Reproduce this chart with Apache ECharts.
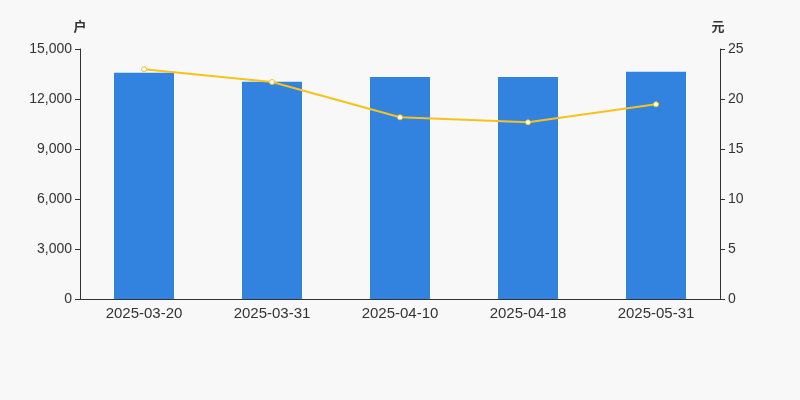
<!DOCTYPE html>
<html><head><meta charset="utf-8">
<script src="https://cdn.jsdelivr.net/npm/echarts@6/dist/echarts.min.js"></script>
<style>html,body{margin:0;padding:0;background:#f8f8f8}#c{width:800px;height:400px}</style>
</head><body><div id="c"></div>
<script>
const categories = ['2025-03-20','2025-03-31','2025-04-10','2025-04-18','2025-05-31'];
const holders = [13570, 13030, 13320, 13320, 13640];
const prices = [22.97, 21.7, 18.17, 17.67, 19.47];
const leftTicks = {min:0, max:15000, interval:3000};
const rightTicks = {min:0, max:25, interval:5};

const chart = echarts.init(document.getElementById('c'));
const ff = 'Liberation Sans, Arial, sans-serif';
const yLabel = {color:'#333', fontSize:14, fontFamily:ff};
chart.setOption({
  backgroundColor:'#f8f8f8',
  animation:false,
  grid:{left:80, right:80, top:49, bottom:101},
  xAxis:{type:'category', data:categories,
    axisLine:{lineStyle:{color:'#333'}}, axisTick:{lineStyle:{color:'#333'}},
    axisLabel:{color:'#333', fontSize:15, fontFamily:ff, margin:7}},
  yAxis:[
    {type:'value', name:'户', min:leftTicks.min, max:leftTicks.max, interval:leftTicks.interval,
     nameTextStyle:{color:'#333', fontSize:13, fontWeight:'bold', align:'center', fontFamily:'Noto Sans CJK SC'},
     nameGap:16,
     axisLine:{show:true, lineStyle:{color:'#333'}}, axisTick:{show:true, lineStyle:{color:'#333'}},
     splitLine:{show:false}, axisLabel:yLabel},
    {type:'value', name:'元', min:rightTicks.min, max:rightTicks.max, interval:rightTicks.interval,
     nameTextStyle:{color:'#333', fontSize:13, fontWeight:'bold', align:'center', padding:[0,4,0,0], fontFamily:'Noto Sans CJK SC'},
     nameGap:16,
     axisLine:{show:true, lineStyle:{color:'#333'}}, axisTick:{show:true, lineStyle:{color:'#333'}},
     splitLine:{show:false}, axisLabel:yLabel}
  ],
  series:[
    {type:'bar', data:holders, barWidth:60, itemStyle:{color:'#3282e0'}},
    {type:'line', yAxisIndex:1, data:prices, symbol:'circle', symbolSize:5,
     lineStyle:{color:'#f5c31a', width:2},
     itemStyle:{color:'#fff', borderColor:'#f5c31a', borderWidth:1}}
  ]
});
</script></body></html>
